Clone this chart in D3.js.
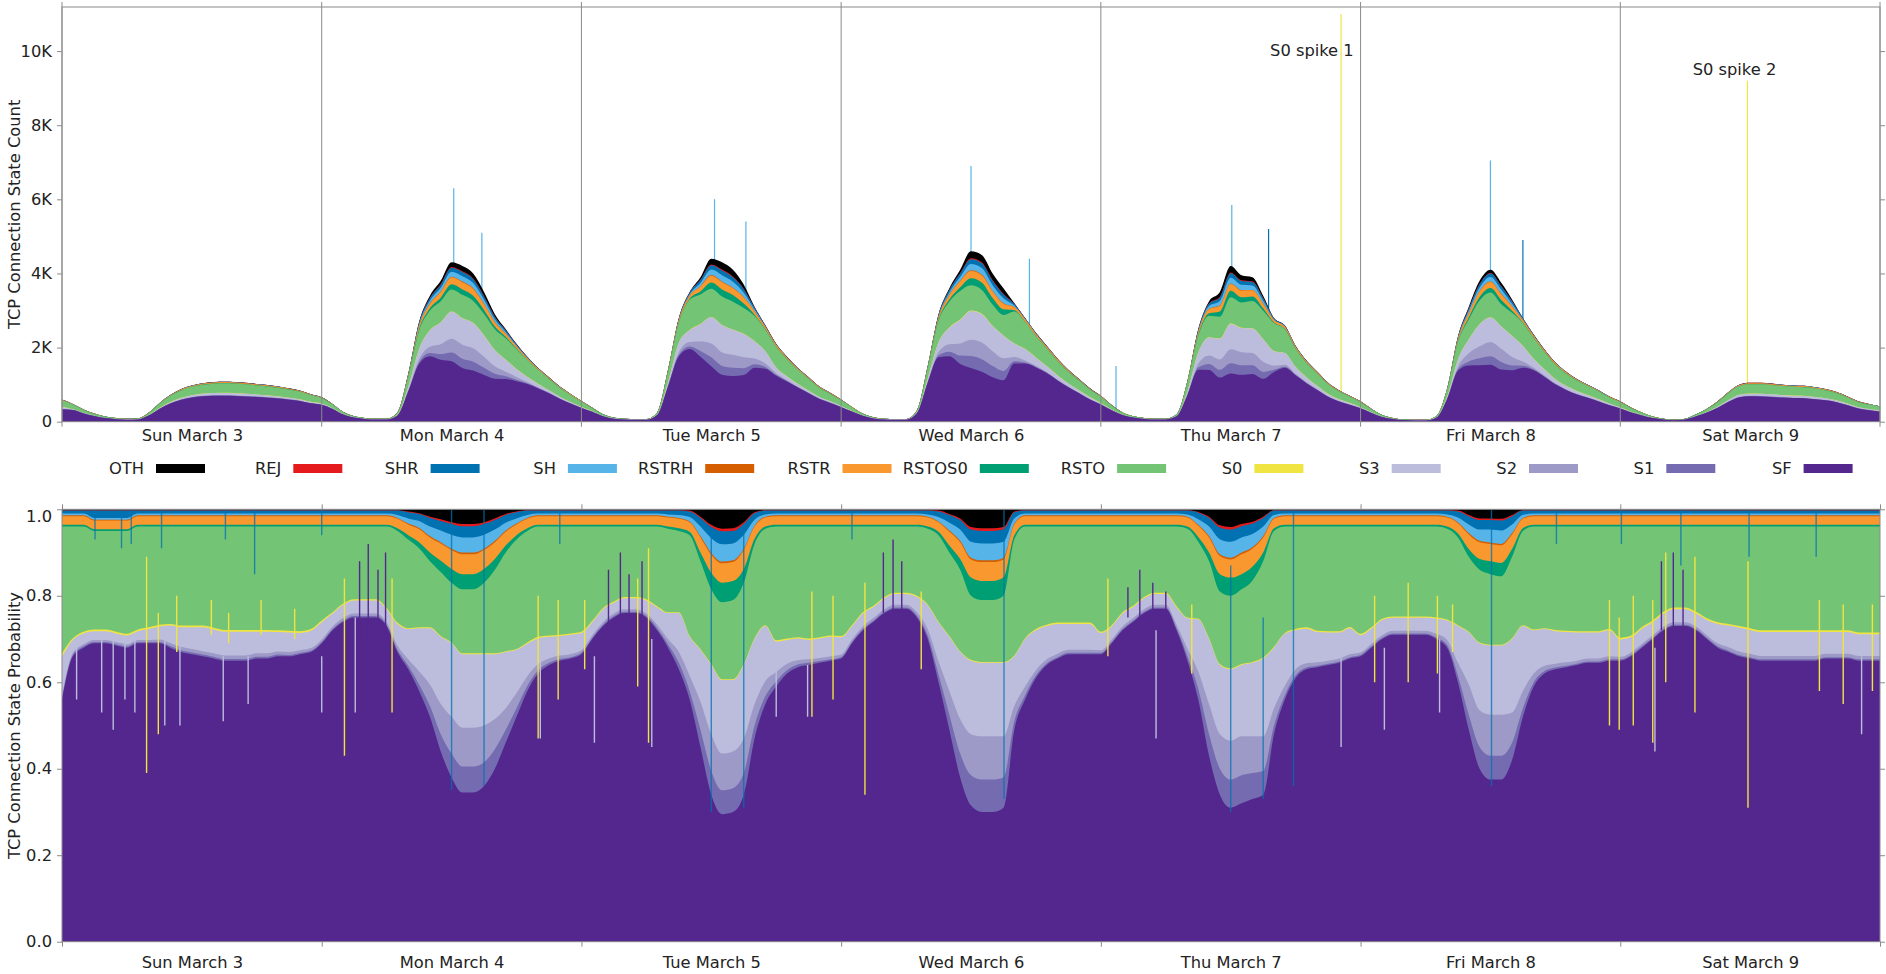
<!DOCTYPE html>
<html>
<head>
<meta charset="utf-8">
<script src="https://cdn.jsdelivr.net/npm/d3@7"></script>
<style>
body { margin: 0; background: #fff; }
text { font-family: "DejaVu Sans", sans-serif; font-size: 16.3px; fill: #222; }
</style>
</head>
<body>
<svg id="chart" width="1886" height="974"></svg>
<script>
// connection states, bottom of the stack first
let states = ["SF","S1","S2","S3","S0","RSTO","RSTOS0","RSTR","RSTRH","SH","SHR","REJ","OTH"]
let stateColors = ["#54278f","#756bb1","#9e9ac8","#bcbddc","#f0e442","#74c476","#009e73","#f9982f","#d55e00","#56b4e9","#0072b2","#e41a1c","#000000"]
let legendOrder = ["OTH","REJ","SHR","SH","RSTRH","RSTR","RSTOS0","RSTO","S0","S3","S2","S1","SF"]
let dayLabels = ["Sun March 3","Mon March 4","Tue March 5","Wed March 6","Thu March 7","Fri March 8","Sat March 9"]
let countTicks = [0,2000,4000,6000,8000,10000]
let countTickLabels = ["0","2K","4K","6K","8K","10K"]
let probTicks = [0,0.2,0.4,0.6,0.8,1.0]
let probTickLabels = ["0.0","0.2","0.4","0.6","0.8","1.0"]

// total connections, one value per hour from Sun Mar 3 00:00 to Sun Mar 10 00:00 (one row per day)
let totalCount = [
600,480,330,220,140,100,80,90,240,500,720,880,980,1040,1070,1080,1070,1050,1020,990,950,900,840,740,
660,480,260,150,100,80,80,250,1300,2700,3400,3800,4300,4200,4000,3500,2900,2500,2100,1750,1450,1200,950,750,
560,380,200,110,80,70,70,250,1400,2800,3500,3900,4400,4300,4100,3700,3100,2600,2100,1750,1450,1200,950,780,
600,400,220,120,80,70,70,300,1500,2900,3600,4100,4600,4500,4000,3600,3200,2800,2400,2050,1700,1400,1150,900,
700,450,250,150,100,80,80,200,1100,2500,3250,3500,4200,3950,3900,3400,2800,2600,2050,1650,1350,1050,850,700,
550,350,180,100,60,50,50,150,900,2300,3100,3800,4100,3750,3300,2800,2350,1950,1600,1350,1150,1000,850,680,
550,380,250,140,80,50,80,200,350,550,800,1000,1050,1050,1030,1000,980,970,930,880,800,680,550,480,
420]

// share of each state per hour, per mille
let shareSF = [
560,660,680,690,690,685,680,690,690,690,680,670,665,660,655,650,650,650,655,655,660,660,665,670,
690,720,740,750,750,750,730,670,630,580,520,440,380,345,345,360,400,460,520,580,620,640,650,655,
665,700,730,750,760,760,750,720,680,630,560,450,340,295,300,340,470,550,590,620,635,640,645,650,
655,690,720,740,760,770,770,750,700,600,490,380,315,300,300,310,490,560,610,640,655,665,665,665,
665,690,720,740,760,770,770,720,650,560,430,340,310,320,330,340,480,560,610,630,635,640,645,655,
660,680,700,710,710,710,710,700,680,600,490,400,375,375,420,520,590,620,630,635,640,645,645,650,
650,660,680,700,720,730,730,720,700,680,670,660,655,650,650,650,650,650,650,655,655,655,650,650,
650]
let shareS1 = [
3,3,3,3,3,3,3,3,3,3,4,4,4,4,4,4,4,4,4,4,4,3,3,3,
3,3,3,3,3,3,3,5,8,15,25,40,55,60,60,55,45,30,20,12,8,5,4,3,
3,3,3,3,3,3,3,5,8,15,20,40,55,55,55,50,30,18,12,8,6,5,4,3,
3,3,3,3,3,3,3,4,8,18,35,55,70,75,75,70,20,10,6,4,3,3,3,3,
3,3,3,3,3,3,3,5,10,25,50,60,65,65,60,55,20,10,6,4,3,3,3,3,
3,3,3,3,3,3,3,4,6,15,35,50,55,55,40,20,10,6,4,3,3,3,3,3,
3,3,3,3,3,3,3,3,3,3,3,3,3,3,3,3,3,3,3,3,3,3,3,3,
3]
let shareS2 = [
6,5,5,5,5,5,5,5,5,6,7,8,8,8,8,8,8,8,8,8,7,7,6,6,
6,6,6,6,6,6,6,10,15,30,50,70,85,90,90,85,70,50,35,22,14,10,8,7,
6,6,6,6,6,6,6,8,12,25,35,65,85,85,85,80,50,35,22,15,10,8,7,7,
6,6,6,6,6,6,6,8,15,30,55,80,95,100,100,95,35,20,12,9,8,7,7,7,
6,6,6,6,6,6,6,8,18,40,70,80,90,90,85,80,40,22,14,10,8,7,7,7,
6,6,6,6,6,6,6,8,12,30,70,85,95,95,70,40,20,12,9,8,7,7,7,7,
6,6,6,6,6,6,6,6,6,7,8,8,8,8,8,8,8,8,8,8,8,8,8,8,
8]
let shareS3 = [
90,30,25,20,20,20,20,20,25,30,40,45,50,55,55,55,55,55,50,50,45,45,40,40,
40,30,30,30,30,30,30,50,70,100,130,155,170,170,170,165,150,130,100,75,60,50,45,45,
40,30,30,25,25,25,30,40,60,90,90,120,160,170,165,170,150,127,70,55,50,45,45,45,
40,30,30,25,25,25,25,35,55,90,125,155,170,170,170,170,115,110,92,77,69,60,60,60,
40,30,30,25,25,25,25,40,70,120,150,160,165,165,170,180,140,120,90,80,70,65,60,60,
40,35,35,30,30,30,30,35,45,85,120,155,160,160,170,150,100,85,75,70,65,60,60,60,
40,35,35,30,30,30,30,30,35,45,50,55,55,55,55,55,55,55,55,50,50,50,50,50,
50]
let shareS0 = [
8,4,4,4,4,4,4,4,4,4,4,4,4,4,4,4,4,4,4,4,4,4,4,4,
4,3,3,3,3,3,3,3,2,2,2,2,2,2,2,2,2,2,2,3,3,3,3,3,
3,3,3,3,3,3,3,3,2,2,2,2,2,2,2,2,2,2,3,3,3,3,3,3,
3,3,3,3,3,3,3,3,2,2,2,2,2,2,2,2,2,2,3,3,3,3,3,3,
3,3,3,3,3,3,3,3,2,2,2,2,2,2,2,2,2,2,3,3,3,3,3,3,
3,3,3,3,3,3,3,3,2,2,2,2,2,2,2,2,2,2,3,3,3,3,3,3,
4,4,4,4,4,4,4,4,4,4,4,4,4,4,4,4,4,4,4,4,4,4,4,4,
4]
let shareRSTO = [
293,258,243,228,228,233,238,238,233,227,225,229,229,229,234,239,239,239,239,239,240,241,242,237,
217,198,178,168,168,168,188,212,205,183,153,148,138,148,148,163,193,228,253,258,255,252,250,247,
243,218,188,173,163,163,168,184,193,188,233,203,173,178,183,188,218,223,263,259,256,259,256,252,
253,228,198,183,163,153,153,160,175,200,193,188,148,143,143,153,268,258,237,227,222,222,222,222,
243,228,198,183,163,153,153,184,205,178,178,168,168,173,188,223,268,246,237,233,241,242,242,232,
248,233,213,208,208,208,208,210,210,203,173,168,163,158,188,218,238,235,239,241,242,242,242,237,
257,252,232,217,197,187,187,197,212,221,225,230,235,240,240,240,240,240,240,240,240,240,245,245,
245]
let shareRSTOS0 = [
4,4,4,4,4,4,4,4,4,4,4,4,4,4,4,4,4,4,4,4,4,4,4,4,
4,4,4,4,4,4,4,6,10,14,20,26,32,35,35,32,25,16,10,6,4,4,4,4,
4,4,4,4,4,4,4,4,5,6,8,20,38,45,44,32,12,5,4,4,4,4,4,4,
4,4,4,4,4,4,4,4,5,8,16,25,42,44,44,42,10,4,4,4,4,4,4,4,
4,4,4,4,4,4,4,4,5,11,20,40,42,35,32,20,6,4,4,4,4,4,4,4,
4,4,4,4,4,4,4,4,5,9,18,25,30,31,18,6,4,4,4,4,4,4,4,4,
4,4,4,4,4,4,4,4,4,4,4,4,4,4,4,4,4,4,4,4,4,4,4,4,
4]
let shareRSTR = [
20,20,20,20,20,20,20,20,20,20,20,20,20,20,20,20,20,20,20,20,20,20,20,20,
20,20,20,20,20,20,20,22,25,30,35,40,44,46,46,44,39,32,25,22,20,20,20,20,
20,20,20,20,20,20,20,20,21,22,22,35,42,45,44,44,28,21,20,20,20,20,20,20,
20,20,20,20,20,20,20,20,21,22,32,39,42,44,44,42,25,20,20,20,20,20,20,20,
20,20,20,20,20,20,20,20,21,26,35,42,42,46,42,35,22,20,20,20,20,20,20,20,
20,20,20,20,20,20,20,20,21,24,34,39,40,41,34,22,20,20,20,20,20,20,20,20,
20,20,20,20,20,20,20,20,20,20,20,20,20,20,20,20,20,20,20,20,20,20,20,20,
20]
let shareRSTRH = [
2,2,2,2,2,2,2,2,2,2,2,2,2,2,2,2,2,2,2,2,2,2,2,2,
2,2,2,2,2,2,2,2,2,3,3,3,3,4,4,3,3,3,2,2,2,2,2,2,
2,2,2,2,2,2,2,2,2,2,2,3,4,4,4,3,2,2,2,2,2,2,2,2,
2,2,2,2,2,2,2,2,2,2,3,3,4,4,4,4,2,2,2,2,2,2,2,2,
2,2,2,2,2,2,2,2,2,2,3,4,4,4,3,3,2,2,2,2,2,2,2,2,
2,2,2,2,2,2,2,2,2,2,3,3,3,3,3,2,2,2,2,2,2,2,2,2,
2,2,2,2,2,2,2,2,2,2,2,2,2,2,2,2,2,2,2,2,2,2,2,2,
2]
let shareSH = [
4,4,4,4,4,4,4,4,4,4,4,4,4,4,4,4,4,4,4,4,4,4,4,4,
4,4,4,4,4,4,4,7,12,16,22,27,32,35,35,32,26,18,12,7,4,4,4,4,
4,4,4,4,4,4,4,4,5,7,10,22,34,40,39,32,14,5,4,4,4,4,4,4,
4,4,4,4,4,4,4,4,5,10,18,26,37,39,39,37,12,4,4,4,4,4,4,4,
4,4,4,4,4,4,4,4,5,13,22,35,37,35,31,22,7,4,4,4,4,4,4,4,
4,4,4,4,4,4,4,4,5,11,20,26,30,31,20,7,4,4,4,4,4,4,4,4,
4,4,4,4,4,4,4,4,4,4,4,4,4,4,4,4,4,4,4,4,4,4,4,4,
4]
let shareSHR = [
7,7,7,17,17,17,17,7,7,7,7,7,7,7,7,7,7,7,7,7,7,7,7,7,
7,7,7,7,7,7,7,10,14,16,20,22,25,26,26,25,22,18,14,10,7,7,7,7,
7,7,7,7,7,7,7,7,9,10,13,20,26,30,29,25,15,9,7,7,7,7,7,7,
7,7,7,7,7,7,7,7,9,13,18,22,28,29,29,28,14,7,7,7,7,7,7,7,
7,7,7,7,7,7,7,7,9,15,20,27,28,26,24,20,10,7,7,7,7,7,7,7,
7,7,7,7,7,7,7,7,9,14,19,22,22,23,19,10,7,7,7,7,7,7,7,7,
7,7,7,7,7,7,7,7,7,7,7,7,7,7,7,7,7,7,7,7,7,7,7,7,
7]
let shareREJ = [
1,1,1,1,1,1,1,1,1,1,1,1,1,1,1,1,1,1,1,1,1,1,1,1,
1,1,1,1,1,1,1,1,2,2,3,4,4,5,5,4,4,2,2,1,1,1,1,1,
1,1,1,1,1,1,1,1,1,1,2,3,5,6,6,4,2,1,1,1,1,1,1,1,
1,1,1,1,1,1,1,1,1,2,2,4,6,6,6,6,2,1,1,1,1,1,1,1,
1,1,1,1,1,1,1,1,1,2,3,5,6,5,4,3,1,1,1,1,1,1,1,1,
1,1,1,1,1,1,1,1,1,2,3,4,4,4,3,1,1,1,1,1,1,1,1,1,
1,1,1,1,1,1,1,1,1,1,1,1,1,1,1,1,1,1,1,1,1,1,1,1,
1]
let shareOTH = [
2,2,2,2,2,2,2,2,2,2,2,2,2,2,2,2,2,2,2,2,2,2,2,2,
2,2,2,2,2,2,2,2,5,9,17,23,30,34,34,30,21,11,5,2,2,2,2,2,
2,2,2,2,2,2,2,2,2,2,3,17,36,45,44,30,7,2,2,2,2,2,2,2,
2,2,2,2,2,2,2,2,2,3,11,21,41,44,44,41,5,2,2,2,2,2,2,2,
2,2,2,2,2,2,2,2,2,6,17,37,41,34,29,17,2,2,2,2,2,2,2,2,
2,2,2,2,2,2,2,2,2,3,13,21,21,22,13,2,2,2,2,2,2,2,2,2,
2,2,2,2,2,2,2,2,2,2,2,2,2,2,2,2,2,2,2,2,2,2,2,2,
2]

// short bursts (hours since Sun 00:00) and the stacked count they reach
let spikeHour = [36.2, 38.8, 60.3, 63.2, 84.0, 89.4, 97.4, 108.1, 111.5, 118.2, 132.0, 135.0, 155.75]
let spikeCount = [6300, 5100, 6000, 5400, 6900, 4400, 1500, 5850, 5200, 11000, 7050, 4900, 9200]
let spikeState = ["SH","SH","SH","SH","SH","SH","SH","SH","SHR","S0","SH","SHR","S0"]

// one-minute outliers seen in the probability panel: hour, lower and upper share, state
let streakHour = [1.35,3.66,4.74,5.82,6.74,7.82,8.9,9.5,10.6,10.9,13.8,14.9,15.4,17.2,18.4,21.5,24.0,26.1,27.1,30.5,
    3.05,5.5,6.4,9.2,15.1,17.8,24.0,27.5,28.3,29.2,29.9,36.0,39.0,44.0,44.2,45.85,46.0,48.3,49.2,50.5,
    51.6,52.4,53.2,53.6,54.2,54.5,60.0,63.0,66.0,68.9,69.3,71.25,73.0,74.2,75.9,76.8,77.6,79.4,87.05,96.65,
    98.5,99.6,100.8,101.1,102.0,104.4,108.0,111.0,113.8,118.2,121.3,122.2,124.4,127.1,127.3,128.5,132.1,138.1,143.0,143.9,
    144.1,145.2,147.0,147.2,147.8,148.2,148.9,149.6,149.8,150.9,155.8,155.9,162.1,162.4,164.6,166.3,167.3]
let streakLow = [0.56,0.53,0.49,0.56,0.53,0.39,0.48,0.50,0.67,0.50,0.71,0.51,0.69,0.55,0.71,0.70,0.53,0.43,0.53,0.53,
    0.93,0.91,0.92,0.91,0.93,0.85,0.94,0.70,0.70,0.70,0.70,0.35,0.36,0.47,0.47,0.56,0.92,0.63,0.46,0.72,
    0.72,0.72,0.59,0.72,0.46,0.45,0.30,0.31,0.52,0.52,0.52,0.56,0.93,0.34,0.76,0.76,0.76,0.63,0.33,0.66,
    0.75,0.75,0.75,0.47,0.75,0.62,0.30,0.33,0.36,0.45,0.60,0.49,0.60,0.62,0.53,0.67,0.36,0.92,0.50,0.49,
    0.92,0.50,0.46,0.44,0.72,0.60,0.72,0.87,0.72,0.53,0.31,0.89,0.89,0.58,0.55,0.48,0.58]
let streakHigh = [0.68,0.70,0.70,0.70,0.70,0.89,0.76,0.72,0.80,0.69,0.79,0.66,0.76,0.66,0.79,0.77,0.66,0.84,0.75,0.84,
    1.0,1.0,1.0,1.0,1.0,1.0,1.0,0.88,0.92,0.86,0.90,1.0,1.0,0.80,0.65,0.79,1.0,0.79,0.66,0.86,
    0.90,0.85,0.84,0.88,0.91,0.70,0.95,0.95,0.63,0.64,0.81,0.80,1.0,0.83,0.90,0.93,0.88,0.81,1.0,0.84,
    0.82,0.86,0.83,0.72,0.81,0.78,0.87,0.75,1.0,0.66,0.80,0.68,0.83,0.80,0.70,0.78,1.0,1.0,0.79,0.75,
    1.0,0.80,0.79,0.68,0.88,0.90,0.90,1.0,0.86,0.89,0.88,1.0,1.0,0.79,0.78,0.66,0.78]
let streakState = ["S3","S3","S3","S3","S3","S0","S0","S3","S0","S3","S0","S3","S0","S3","S0","S0","S3","S0","S3","S0",
    "SHR","SHR","SHR","SHR","SHR","SHR","SHR","SF","SF","SF","SF","SHR","SHR","S0","S3","S0","SHR","S0","S3","SF",
    "SF","SF","S0","SF","S0","S3","SHR","SHR","S3","S3","S0","S0","SHR","S0","SF","SF","SF","S0","SHR","S0",
    "SF","SF","SF","S3","SF","S0","SHR","SHR","SHR","S3","S0","S3","S0","S0","S3","S0","SHR","SHR","S0","S0",
    "SHR","S0","S0","S3","SF","S0","SF","SHR","SF","S0","S0","SHR","SHR","S0","S0","S3","S0"]

let noteText = ["S0 spike 1", "S0 spike 2"]
let noteHour = [115.5, 154.55]
let noteCount = [10030, 9510]

let shares = [shareSF, shareS1, shareS2, shareS3, shareS0, shareRSTO, shareRSTOS0, shareRSTR, shareRSTRH, shareSH, shareSHR, shareREJ, shareOTH]
shares.forEach((a, k) => {
    if (a.length != totalCount.length) throw new Error("length mismatch " + states[k] + " " + a.length)
})
if (streakLow.length != streakHour.length || streakHigh.length != streakHour.length || streakState.length != streakHour.length)
    throw new Error("streak arrays " + [streakHour.length, streakLow.length, streakHigh.length, streakState.length])

let start = new Date(2019, 2, 3)
let end = new Date(2019, 2, 10)
let atHour = h => d3.timeMinute.offset(start, Math.round(h * 60))

let shareRows = totalCount.map((t, i) => {
    let row = {time: d3.timeHour.offset(start, i)}
    states.forEach((s, k) => row[s] = shares[k][i])
    return row
})
let countRows = shareRows.map((r, i) => {
    let sum = d3.sum(states, s => r[s])
    let row = {time: r.time}
    states.forEach(s => row[s] = totalCount[i] * r[s] / sum)
    return row
})
let spikeRows = spikeHour.map((h, i) => ({time: atHour(h), count: spikeCount[i], state: spikeState[i]}))
let streakRows = streakHour.map((h, i) => ({time: atHour(h), low: streakLow[i], high: streakHigh[i], state: streakState[i]}))

let svg = d3.select("#chart")
let frameColor = "#8a8a8a"

let left = 62, right = 1880
let countTop = 7, countBottom = 421.7
let probTop = 509.3, probBottom = 941.7

let x = d3.scaleTime().domain([start, end]).range([left, right])
let yCount = d3.scaleLinear().domain([0, 11190]).range([countBottom, countTop])
let yProb = d3.scaleLinear().domain([0, 1]).range([probBottom, probTop])
let color = d3.scaleOrdinal().domain(states).range(stateColors)

let dayStarts = d3.timeDay.range(start, d3.timeDay.offset(end, 1))
let noons = d3.timeDay.range(start, end).map(d => d3.timeHour.offset(d, 12))

let defs = svg.append("defs")
defs.append("clipPath").attr("id", "clip-count").append("rect")
    .attr("x", left).attr("y", countTop).attr("width", right - left).attr("height", countBottom - countTop)
defs.append("clipPath").attr("id", "clip-prob").append("rect")
    .attr("x", left).attr("y", probTop).attr("width", right - left).attr("height", probBottom - probTop)

// ---- count panel
let gCount = svg.append("g").attr("clip-path", "url(#clip-count)")
gCount.selectAll("line.spike")
    .data(spikeRows)
    .join("line")
    .attr("class", "spike")
    .attr("x1", d => x(d.time)).attr("x2", d => x(d.time))
    .attr("y1", countBottom).attr("y2", d => yCount(d.count))
    .attr("stroke", d => color(d.state))
    .attr("stroke-width", 1.2)

let countLayers = d3.stack().keys(states)(countRows)
let countArea = d3.area()
    .curve(d3.curveMonotoneX)
    .x(d => x(d.data.time))
    .y0(countBottom)
    .y1(d => yCount(d[1]))
// each layer is filled down to zero, drawn top layer first, so no seams show
gCount.selectAll("path.layer")
    .data(countLayers.slice().reverse())
    .join("path")
    .attr("class", "layer")
    .attr("d", countArea)
    .attr("fill", d => color(d.key))

svg.append("g").selectAll("line")
    .data(dayStarts)
    .join("line")
    .attr("x1", d => x(d)).attr("x2", d => x(d))
    .attr("y1", countTop - 5).attr("y2", countBottom + 5)
    .attr("stroke", frameColor)

svg.append("g").selectAll("text")
    .data(noteText)
    .join("text")
    .attr("x", (d, i) => x(atHour(noteHour[i])))
    .attr("y", (d, i) => yCount(noteCount[i]))
    .attr("dy", "0.35em")
    .attr("text-anchor", "middle")
    .text(d => d)

// ---- probability panel
let probLayers = d3.stack().keys(states).offset(d3.stackOffsetExpand)(shareRows)
let probArea = d3.area()
    .curve(d3.curveMonotoneX)
    .x(d => x(d.data.time))
    .y0(probBottom)
    .y1(d => yProb(d[1]))
let gProb = svg.append("g").attr("clip-path", "url(#clip-prob)")
gProb.selectAll("path.layer")
    .data(probLayers.slice().reverse())
    .join("path")
    .attr("class", "layer")
    .attr("d", probArea)
    .attr("fill", d => color(d.key))
gProb.selectAll("line.streak")
    .data(streakRows)
    .join("line")
    .attr("class", "streak")
    .attr("x1", d => x(d.time)).attr("x2", d => x(d.time))
    .attr("y1", d => yProb(d.low)).attr("y2", d => yProb(d.high))
    .attr("stroke", d => color(d.state))
    .attr("stroke-opacity", d => d.state == "SHR" ? 0.75 : 1)
    .attr("stroke-width", 1.4)

// ---- axes
function styleAxis(g) {
    g.select(".domain").remove()
    g.selectAll(".tick line").attr("stroke", frameColor)
    g.attr("font-size", null).attr("font-family", null)
}

svg.append("g").attr("transform", `translate(${left},0)`)
    .call(d3.axisLeft(yCount).tickValues(countTicks).tickFormat((d, i) => countTickLabels[i]).tickSize(5).tickPadding(5))
    .call(styleAxis)
svg.append("g").attr("transform", `translate(${right},0)`)
    .call(d3.axisRight(yCount).tickValues(countTicks).tickFormat("").tickSize(5))
    .call(styleAxis)
svg.append("g").attr("transform", `translate(0,${countBottom})`)
    .call(d3.axisBottom(x).tickValues(noons).tickFormat((d, i) => dayLabels[i]).tickSize(0))
    .call(styleAxis)
    .selectAll("text").attr("y", 13.3).attr("dy", "0.35em")

let probLeft = svg.append("g").attr("transform", `translate(${left},0)`)
    .call(d3.axisLeft(yProb).tickValues(probTicks).tickFormat((d, i) => probTickLabels[i]).tickSize(5).tickPadding(5))
    .call(styleAxis)
probLeft.selectAll("text").filter(d => d == 1).attr("dy", "0.75em")
svg.append("g").attr("transform", `translate(${right},0)`)
    .call(d3.axisRight(yProb).tickValues(probTicks).tickFormat("").tickSize(5))
    .call(styleAxis)
svg.append("g").attr("transform", `translate(0,${probTop})`)
    .call(d3.axisTop(x).tickValues(dayStarts).tickFormat("").tickSize(5))
    .call(styleAxis)
svg.append("g").attr("transform", `translate(0,${probBottom})`)
    .call(d3.axisBottom(x).tickValues(dayStarts).tickFormat("").tickSize(5))
    .call(styleAxis)
svg.append("g").attr("transform", `translate(0,${probBottom})`)
    .call(d3.axisBottom(x).tickValues(noons).tickFormat((d, i) => dayLabels[i]).tickSize(0))
    .call(styleAxis)
    .selectAll("text").attr("y", 20.3).attr("dy", "0.35em")

// frames
svg.append("rect").attr("x", left).attr("y", countTop).attr("width", right - left).attr("height", countBottom - countTop)
    .attr("fill", "none").attr("stroke", frameColor)
svg.append("rect").attr("x", left).attr("y", probTop).attr("width", right - left).attr("height", probBottom - probTop)
    .attr("fill", "none").attr("stroke", frameColor)

// axis titles
svg.append("text")
    .attr("transform", `translate(14.5,${(countTop + countBottom) / 2}) rotate(-90)`)
    .attr("text-anchor", "middle").attr("dy", "0.35em")
    .text("TCP Connection State Count")
svg.append("text")
    .attr("transform", `translate(14.5,${(probTop + probBottom) / 2}) rotate(-90)`)
    .attr("text-anchor", "middle").attr("dy", "0.35em")
    .text("TCP Connection State Probability")

// ---- legend
let legendX = d3.scaleLinear().domain([0, legendOrder.length - 1]).range([156, 156 + 137.3 * (legendOrder.length - 1)])
let legend = svg.append("g").selectAll("g")
    .data(legendOrder)
    .join("g")
    .attr("transform", (d, i) => `translate(${legendX(i)},468.5)`)
legend.append("rect")
    .attr("x", 0).attr("y", -4.5).attr("width", 49).attr("height", 9)
    .attr("fill", d => color(d))
legend.append("text")
    .attr("x", -12).attr("dy", "0.35em")
    .attr("text-anchor", "end")
    .text(d => d)
</script>
</body>
</html>
